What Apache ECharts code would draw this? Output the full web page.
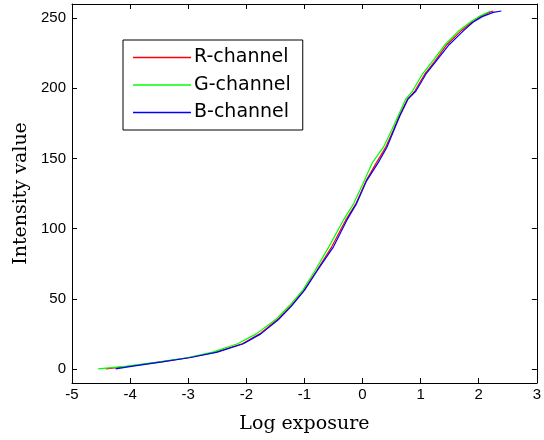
<!DOCTYPE html>
<html>
<head>
<meta charset="utf-8">
<script src="https://cdn.jsdelivr.net/npm/echarts@6/dist/echarts.min.js"></script>
<style>
  html, body { margin: 0; padding: 0; background: #fff; }
  #chart { width: 544px; height: 440px; }
</style>
</head>
<body>
<div id="chart"></div>
<script>
// Camera response curves: log exposure recovered for each pixel intensity level
const intensityLevels = [0, 2, 5, 8, 12, 18, 25, 35, 45, 56, 70, 87, 106, 118, 134, 147, 158, 170, 180, 192, 198, 210, 219, 231, 241, 247, 251, 254, 255];

const logExposureR = [-4.42, -4.00, -3.47, -3.00, -2.52, -2.07, -1.77, -1.47, -1.23, -1.01, -0.79, -0.53, -0.29, -0.11, 0.06, 0.24, 0.40, 0.53, 0.63, 0.77, 0.90, 1.07, 1.24, 1.45, 1.70, 1.88, 2.03, 2.18, 2.25];
const logExposureG = [-4.55, -4.05, -3.50, -3.02, -2.58, -2.15, -1.83, -1.50, -1.26, -1.03, -0.82, -0.58, -0.33, -0.15, 0.03, 0.17, 0.36, 0.50, 0.61, 0.74, 0.86, 1.03, 1.20, 1.42, 1.66, 1.85, 2.00, 2.15, 2.20];
const logExposureB = [-4.25, -3.95, -3.45, -2.98, -2.50, -2.05, -1.75, -1.45, -1.22, -1.00, -0.78, -0.50, -0.27, -0.10, 0.07, 0.27, 0.42, 0.54, 0.64, 0.78, 0.92, 1.09, 1.26, 1.49, 1.74, 1.90, 2.06, 2.25, 2.39];

const channelNames = ['R-channel', 'G-channel', 'B-channel'];
const channelColors = ['#ff0000', '#00ff00', '#0000ff'];

const yTickValues = [0, 50, 100, 150, 200, 250];

function pairs(xs, ys) {
  return xs.map((x, i) => [x, ys[i]]);
}

const chart = echarts.init(document.getElementById('chart'), null, { renderer: 'canvas' });

const tickFont = { fontFamily: '"Liberation Sans", Arial, sans-serif', fontSize: 15, color: '#000' };
const nameFont = { fontFamily: '"DejaVu Serif", serif', fontSize: 19, color: '#000' };
const axisLine = { show: true, onZero: false, lineStyle: { color: '#000', width: 1 } };
const innerTick = { show: true, inside: true, length: 5, lineStyle: { color: '#000', width: 1 } };

const option = {
  backgroundColor: '#fff',
  animation: false,
  grid: { left: 72, top: 4, right: 1, bottom: 57, containLabel: false },
  legend: {
    orient: 'vertical',
    left: 123,
    top: 40,
    width: 183,
    data: channelNames,
    icon: 'rect',
    backgroundColor: '#fff',
    borderColor: '#000',
    borderWidth: 1,
    borderRadius: 0,
    padding: [8, 12, 8, 10],
    itemGap: 8.5,
    itemWidth: 58,
    itemHeight: 1.5,
    textStyle: { fontFamily: '"DejaVu Sans", sans-serif', fontSize: 19, lineHeight: 19, color: '#000', padding: [0, 0, 0, -2] }
  },
  xAxis: [
    {
      type: 'value', position: 'bottom', min: -5, max: 3, interval: 1,
      axisLine: axisLine, axisTick: innerTick,
      axisLabel: Object.assign({ margin: 4 }, tickFont),
      splitLine: { show: false },
      name: 'Log exposure', nameLocation: 'middle', nameGap: 32, nameTextStyle: nameFont
    },
    {
      type: 'value', position: 'top', min: -5, max: 3, interval: 1,
      axisLine: axisLine, axisTick: innerTick,
      axisLabel: { show: false }, splitLine: { show: false }
    }
  ],
  yAxis: [
    {
      type: 'value', position: 'left', min: -10, max: 260,
      axisLine: axisLine,
      axisTick: Object.assign({ customValues: yTickValues }, innerTick),
      axisLabel: Object.assign({ margin: 6, customValues: yTickValues }, tickFont),
      splitLine: { show: false },
      name: 'Intensity value', nameLocation: 'middle', nameGap: 37, nameRotate: 90, nameTextStyle: nameFont
    },
    {
      type: 'value', position: 'right', min: -10, max: 260,
      axisLine: axisLine,
      axisTick: Object.assign({ customValues: yTickValues }, innerTick),
      axisLabel: { show: false, customValues: yTickValues },
      splitLine: { show: false }
    }
  ],
  series: [
    { name: channelNames[0], type: 'line', symbol: 'none', data: pairs(logExposureR, intensityLevels), color: channelColors[0], lineStyle: { width: 1.2, color: channelColors[0] } },
    { name: channelNames[1], type: 'line', symbol: 'none', data: pairs(logExposureG, intensityLevels), color: channelColors[1], lineStyle: { width: 1.2, color: channelColors[1] } },
    { name: channelNames[2], type: 'line', symbol: 'none', data: pairs(logExposureB, intensityLevels), color: channelColors[2], lineStyle: { width: 1.2, color: channelColors[2] } }
  ]
};

chart.setOption(option);
</script>
</body>
</html>
